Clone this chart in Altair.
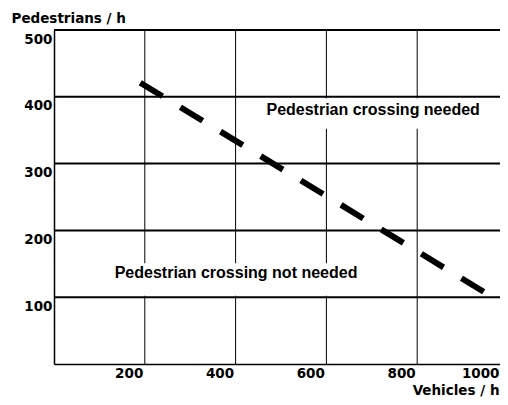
import altair as alt
import pandas as pd

# ---- data ----
h_grid = [100, 200, 300, 400, 500]
v_grid = [200, 400, 600, 800]
x_ticks = [200, 400, 600, 800, 1000]
y_ticks = [100, 200, 300, 400, 500]
line_x = [190, 1000]
line_y = [421, 86]
labels = ["Pedestrian crossing needed", "Pedestrian crossing not needed"]
label_x = [703, 401]
label_y = [380, 136]
box_x1 = [458, 125]
box_x2 = [947, 676]
box_y1 = [352, 102]
box_y2 = [398, 151]

FONT = "DejaVu Sans"
FS = 13.5
X = alt.Scale(domain=[0, 1000], range=[0, 454], nice=False, zero=False)
Y = alt.Scale(domain=[0, 500], nice=False, zero=False)

xaxis = alt.Axis(
    values=x_ticks, format="d", grid=False, ticks=False, domainColor="black", domainWidth=1.5,
    labelFont=FONT, labelFontSize=FS, labelFontWeight="bold", labelColor="black",
    labelAlign="right", labelBaseline="top",
    labelOffset={"condition": {"test": "datum.value >= 1000", "value": -9}, "value": -2},
    labelPadding=2,
    labelFlush=False, labelOverlap=False, labelBound=False,
    title="Vehicles / h", titleFont=FONT, titleFontSize=FS, titleFontWeight="bold",
    titleColor="black", titleX=445, titleY=26, titleAlign="right", titleBaseline="middle",
)
yaxis = alt.Axis(
    values=y_ticks, format="d", grid=False, ticks=False, domainColor="black", domainWidth=1.5,
    labelFont=FONT, labelFontSize=FS, labelFontWeight="bold", labelColor="black",
    labelBaseline="top", labelOffset=2, labelPadding=2,
    labelFlush=False, labelOverlap=False, labelBound=False,
    title="Pedestrians / h", titleFont=FONT, titleFontSize=FS, titleFontWeight="bold",
    titleColor="black", titleAngle=0, titleX=-43, titleY=-12, titleAlign="left",
    titleBaseline="middle",
)

hg = alt.Chart(pd.DataFrame({"y": h_grid})).mark_rule(color="black", strokeWidth=2).encode(
    y=alt.Y("y:Q", scale=Y, axis=yaxis)
)
vg = alt.Chart(pd.DataFrame({"x": v_grid})).mark_rule(color="black", strokeWidth=1).encode(
    x=alt.X("x:Q", scale=X, axis=xaxis)
)
boxes = alt.Chart(pd.DataFrame({"x": box_x1, "x2": box_x2, "y": box_y1, "y2": box_y2})).mark_rect(
    color="white"
).encode(
    x=alt.X("x:Q", scale=X, axis=xaxis), x2="x2:Q",
    y=alt.Y("y:Q", scale=Y, axis=yaxis), y2="y2:Q",
)
line = alt.Chart(pd.DataFrame({"x": line_x, "y": line_y})).mark_line(
    color="black", strokeWidth=6, strokeDash=[26, 21], strokeCap="butt", clip=True
).encode(
    x=alt.X("x:Q", scale=X, axis=xaxis),
    y=alt.Y("y:Q", scale=Y, axis=yaxis),
)
texts = alt.Chart(pd.DataFrame({"x": label_x, "y": label_y, "t": labels})).mark_text(
    font="Liberation Sans", fontSize=16, fontWeight="bold", color="black",
    align="center", baseline="middle"
).encode(
    x=alt.X("x:Q", scale=X, axis=xaxis),
    y=alt.Y("y:Q", scale=Y, axis=yaxis),
    text="t:N",
)

chart = alt.layer(hg, vg, boxes, line, texts).properties(
    width=446, height=334,
    padding={"left": 46, "top": 22, "right": 0, "bottom": 33},
    autosize="none",
    background="white",
).configure_view(stroke=None)

chart.save("out.html", embed_options={"renderer": "svg", "actions": False})
